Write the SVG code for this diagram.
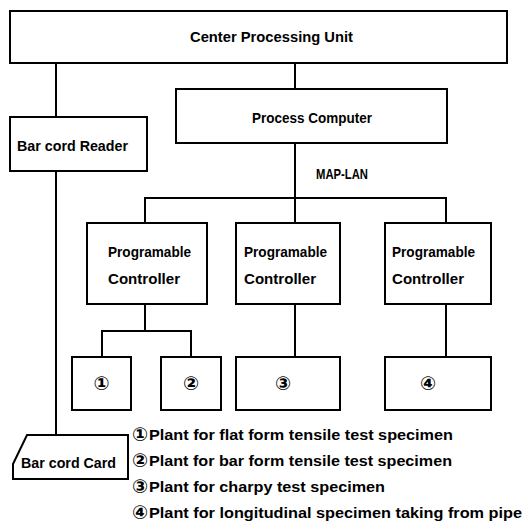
<svg xmlns="http://www.w3.org/2000/svg" width="525" height="522" viewBox="0 0 525 522">
<style>
.box{fill:#fff;stroke:#000;stroke-width:2}
.ln{fill:none;stroke:#000;stroke-width:2}
.t{font-family:"Liberation Sans",Arial,sans-serif;font-weight:bold;font-size:15px;fill:#000}
.c{font-family:"DejaVu Sans",sans-serif;font-weight:bold;font-size:19px;fill:#000}
</style>
<rect width="525" height="522" fill="#fff"/>
<g id="connectors">
<path class="ln" d="M56 63V117"/>
<path class="ln" d="M295 63V89"/>
<path class="ln" d="M295 143V222"/>
<path class="ln" d="M145 222V198H446V222"/>
<path class="ln" d="M56 171V435"/>
<path class="ln" d="M145 304V331M102 357V331H191V357"/>
<path class="ln" d="M295 304V357"/>
<path class="ln" d="M446 304V357"/>
</g>
<g id="cpu"><rect class="box" x="10" y="11" width="497" height="52"/><text class="t" x="190" y="42" textLength="163" lengthAdjust="spacingAndGlyphs">Center Processing Unit</text></g>
<g id="reader"><rect class="box" x="10" y="117" width="137" height="54"/><text class="t" x="17" y="151" textLength="111" lengthAdjust="spacingAndGlyphs">Bar cord Reader</text></g>
<g id="pc"><rect class="box" x="176" y="89" width="271" height="54"/><text class="t" x="252" y="123" textLength="120" lengthAdjust="spacingAndGlyphs">Process Computer</text></g>
<text class="t" x="316" y="179" textLength="52" lengthAdjust="spacingAndGlyphs">MAP-LAN</text>
<g id="plc1"><rect class="box" x="87" y="223" width="120" height="81"/><text class="t" x="108" y="257" textLength="83" lengthAdjust="spacingAndGlyphs">Programable</text><text class="t" x="108" y="284" textLength="72" lengthAdjust="spacingAndGlyphs">Controller</text></g>
<g id="plc2"><rect class="box" x="236" y="223" width="104" height="81"/><text class="t" x="244" y="257" textLength="83" lengthAdjust="spacingAndGlyphs">Programable</text><text class="t" x="244" y="284" textLength="72" lengthAdjust="spacingAndGlyphs">Controller</text></g>
<g id="plc3"><rect class="box" x="385" y="223" width="106" height="81"/><text class="t" x="392" y="257" textLength="83" lengthAdjust="spacingAndGlyphs">Programable</text><text class="t" x="392" y="284" textLength="72" lengthAdjust="spacingAndGlyphs">Controller</text></g>
<g id="p1"><rect class="box" x="72" y="357" width="59" height="53"/><text class="c" x="101.5" y="390" text-anchor="middle">①</text></g>
<g id="p2"><rect class="box" x="161" y="357" width="60" height="53"/><text class="c" x="191" y="390" text-anchor="middle">②</text></g>
<g id="p3"><rect class="box" x="236" y="357" width="104" height="53"/><text class="c" x="283" y="390" text-anchor="middle">③</text></g>
<g id="p4"><rect class="box" x="385" y="357" width="106" height="53"/><text class="c" x="428" y="390" text-anchor="middle">④</text></g>
<g id="card"><path class="box" d="M27 435H128V479H13V464Z"/><text class="t" x="21" y="468" textLength="95" lengthAdjust="spacingAndGlyphs">Bar cord Card</text></g>
<g id="legend">
<text class="c" x="132" y="441">①</text><text class="t" x="149" y="440" textLength="304" lengthAdjust="spacingAndGlyphs">Plant for flat form tensile test specimen</text>
<text class="c" x="132" y="467">②</text><text class="t" x="149" y="466" textLength="303" lengthAdjust="spacingAndGlyphs">Plant for bar form tensile test specimen</text>
<text class="c" x="132" y="493">③</text><text class="t" x="149" y="492" textLength="236" lengthAdjust="spacingAndGlyphs">Plant for charpy test specimen</text>
<text class="c" x="132" y="519">④</text><text class="t" x="149" y="518" textLength="373" lengthAdjust="spacingAndGlyphs">Plant for longitudinal specimen taking from pipe</text>
</g>
</svg>
